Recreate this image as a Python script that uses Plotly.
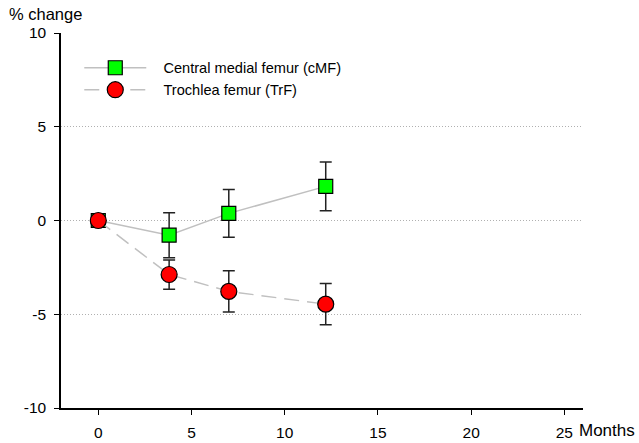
import plotly.graph_objects as go

months = [0, 3.8, 7.0, 12.2]
cmf = [0, -0.78, 0.38, 1.82]
cmf_err = [0, 1.2, 1.27, 1.3]
trf = [0, -2.88, -3.78, -4.46]
trf_err = [0, 0.78, 1.1, 1.1]

y_ticks = [-10, -5, 0, 5, 10]
y_ticktext = ["-10", "-5", "0", "5", "10"]
x_ticks = [0, 5, 10, 15, 20, 25]

FONT = "Liberation Sans, Arial, Helvetica, sans-serif"
PAD = "\u00a0\u00a0\u00a0"

fig = go.Figure()
fig.add_trace(go.Scatter(
    x=months, y=cmf, mode="lines+markers", name=PAD + "Central medial femur (cMF)",
    line=dict(color="#c0c0c0", width=1.5),
    marker=dict(symbol="square", size=14, color="#00ff00", line=dict(color="black", width=1.2)),
    error_y=dict(type="data", array=cmf_err, visible=True, color="#222", thickness=1.5, width=6),
))
fig.add_trace(go.Scatter(
    x=months, y=trf, mode="lines+markers", name=PAD + "Trochlea femur (TrF)",
    line=dict(color="#c0c0c0", width=1.5, dash="15px,8px"),
    marker=dict(symbol="circle", size=16, color="#ff0000", line=dict(color="black", width=1.2)),
    error_y=dict(type="data", array=trf_err, visible=True, color="#222", thickness=1.5, width=6),
))

fig.update_layout(
    width=639, height=443,
    margin=dict(l=61, r=56, t=33, b=35),
    paper_bgcolor="white", plot_bgcolor="white",
    font=dict(family=FONT, size=15, color="black"),
    showlegend=True,
    legend=dict(x=0.035, y=0.95, xanchor="left", yanchor="top", bgcolor="rgba(0,0,0,0)",
                font=dict(size=14.6), itemwidth=62),
    xaxis=dict(range=[-2, 26], tickvals=x_ticks, ticks="outside", ticklen=5, tickwidth=1,
               tickcolor="black", showline=True, linecolor="black", linewidth=1.5,
               showgrid=False, zeroline=False, tickfont=dict(size=15.5), ticklabelstandoff=5,
               automargin=False),
    yaxis=dict(range=[-10, 10], tickvals=y_ticks, ticktext=y_ticktext, ticks="outside",
               ticklen=5, tickwidth=1, tickcolor="black", showline=True, linecolor="black",
               linewidth=1.5, showgrid=True, gridcolor="#b0b0b0", griddash="1px,2px", gridwidth=1,
               zeroline=False, tickfont=dict(size=15.5), ticklabelstandoff=5,
               automargin=False),
    annotations=[
        dict(text="% change", xref="paper", yref="paper", x=-0.1034, y=1.0507,
             xanchor="left", yanchor="middle", showarrow=False, font=dict(size=16.5)),
        dict(text="Months", xref="paper", yref="paper", x=0.9885, y=-0.0613,
             xanchor="left", yanchor="middle", showarrow=False, font=dict(size=17)),
    ],
)

fig.write_html(
    "out.html",
    config={"displayModeBar": False},
    post_script="document.body.style.margin='0';document.body.style.overflow='hidden';",
)
